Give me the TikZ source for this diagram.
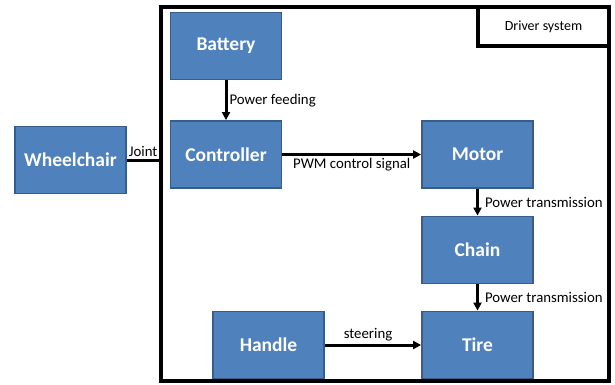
\documentclass[tikz,border=0pt]{standalone}
\usepackage{fontspec}
\setmainfont{Carlito}
\usetikzlibrary{arrows.meta}
\definecolor{boxblue}{RGB}{79,129,189}
\definecolor{boxedge}{RGB}{56,93,138}
\tikzset{
  block/.style={draw=boxedge,line width=1.8pt,fill=boxblue,text=white,
    minimum width=111pt,minimum height=67pt,inner sep=0pt,
    font=\fontsize{19.5}{22}\selectfont\bfseries},
  flow/.style={line width=3pt,-{Triangle[length=8pt,width=8pt]}},
  tag/.style={font=\fontsize{14.8}{17}\selectfont,inner sep=2pt}
}
\begin{document}
\begin{tikzpicture}[x=1pt,y=-1pt]

  % page frame (615 x 385 px)
  \useasboundingbox (0,0) rectangle (615,385);

  % ── DRIVER SYSTEM FRAME ─────────────────────────────
  \node[draw,line width=3.2pt,minimum width=448pt,minimum height=374pt,inner sep=0pt]
    (drv) at (385,194) {};
  \node[draw,line width=3.2pt,minimum width=131pt,minimum height=39pt,inner sep=0pt,
    anchor=north east,font=\fontsize{14}{16}\selectfont]
    (drvtag) at (drv.north east) {Driver system};

  % ── BLOCKS ──────────────────────────────────────────
  \node[block] (wheel) at (70.5,160)  {Wheelchair};
  \node[block] (batt)  at (226,46)    {Battery};
  \node[block] (ctrl)  at (226,154.5) {Controller};
  \node[block] (motor) at (477.5,154.5) {Motor};
  \node[block] (chain) at (477.5,250) {Chain};
  \node[block] (tire)  at (477.5,345) {Tire};
  \node[block] (hand)  at (268.5,345) {Handle};

  % ── CONNECTIONS ─────────────────────────────────────
  \draw[line width=3pt] (wheel.east) -- (wheel.east -| drv.west)
    node[tag,midway,above] {Joint};
  \draw[flow] (batt) -- (ctrl)
    node[tag,midway,right] {Power feeding};
  \draw[flow] (ctrl) -- (motor)
    node[tag,midway,below] {PWM control signal};
  \draw[flow] (motor) -- (chain)
    node[tag,midway,right,xshift=4pt] {Power transmission};
  \draw[flow] (chain) -- (tire)
    node[tag,midway,right,xshift=4pt] {Power transmission};
  \draw[flow] (hand) -- (tire)
    node[tag,midway,above,xshift=-5pt] {steering};

\end{tikzpicture}
\end{document}
